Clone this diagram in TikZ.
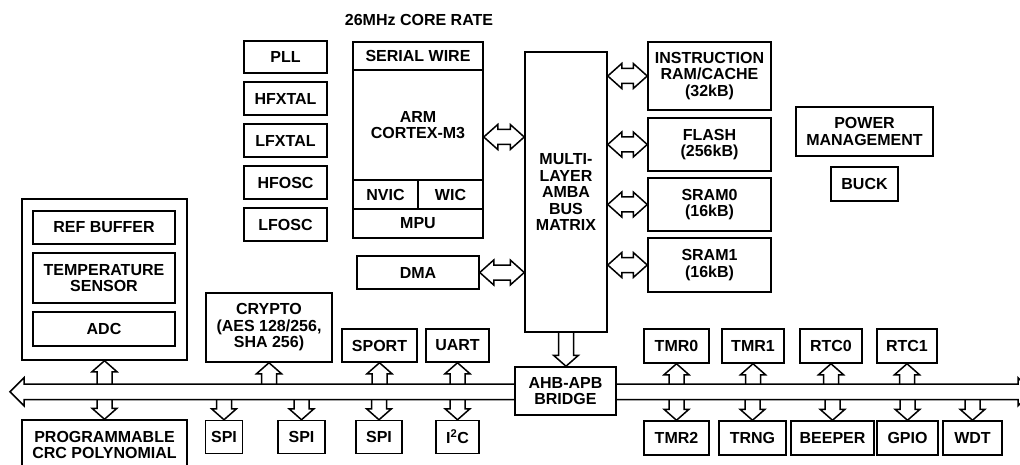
\documentclass[tikz,border=0pt]{standalone}
\usepackage{fontspec}
\setmainfont{Liberation Sans}
\usetikzlibrary{positioning,calc,backgrounds}

\tikzset{
  blk/.style={rectangle, draw, line width=1.5pt, font=\bfseries\fontsize{16}{16.5}\selectfont, align=center, inner sep=0pt},
  blkline/.style={line width=1.5pt, line join=miter}
}

% open block arrows: #1 start point, #2 end point
\newcommand{\biarrowh}[2]{%
  \draw[blkline] let \p1=#1, \p2=#2 in
    (\x1,\y1) -- ++(14pt,12.5pt) -- ++(0,-5pt) -- (\x2-14pt,\y1+7.5pt) -- ++(0,5pt)
    -- (\x2,\y1) -- ++(-14pt,-12.5pt) -- ++(0,5pt) -- (\x1+14pt,\y1-7.5pt) -- ++(0,-5pt) -- cycle;}
\newcommand{\uparrowblk}[2]{%
  \draw[blkline] let \p1=#1, \p2=#2 in
    (\x1-7.5pt,\y1) -- (\x1-7.5pt,\y2-11pt) -- ++(-5pt,0) -- (\x1,\y2)
    -- (\x1+12.5pt,\y2-11pt) -- ++(-5pt,0) -- (\x1+7.5pt,\y1);}
\newcommand{\downarrowblk}[2]{%
  \draw[blkline] let \p1=#1, \p2=#2 in
    (\x1-7.5pt,\y1) -- (\x1-7.5pt,\y2+11pt) -- ++(-5pt,0) -- (\x1,\y2)
    -- (\x1+12.5pt,\y2+11pt) -- ++(-5pt,0) -- (\x1+7.5pt,\y1);}

\begin{document}
\begin{tikzpicture}[x=1pt,y=-1pt]
    \useasboundingbox (0,0) rectangle (1020,465);

    % clock sources
    \node[blk, minimum width=83pt, minimum height=32pt] (pll) at (285.5,57) {PLL};
    \node[blk, minimum width=83pt, minimum height=33pt, below=7.5pt of pll] (hfxtal) {HFXTAL};
    \node[blk, minimum width=83pt, minimum height=33pt, below=7.5pt of hfxtal] (lfxtal) {LFXTAL};
    \node[blk, minimum width=83pt, minimum height=33pt, below=7.5pt of lfxtal] (hfosc) {HFOSC};
    \node[blk, minimum width=83pt, minimum height=33pt, below=7.5pt of hfosc] (lfosc) {LFOSC};

    % analog block
    \node[blk, minimum width=165pt, minimum height=161pt] (analog) at (104.5,279.5) {};
    \node[blk, minimum width=142pt, minimum height=33pt] (refbuffer) at (104,227.5) {REF BUFFER};
    \node[blk, minimum width=142pt, minimum height=50pt] (tempsensor) at (104,278) {TEMPERATURE\\SENSOR};
    \node[blk, minimum width=142pt, minimum height=34pt] (adc) at (104,329) {ADC};

    \node[blk, minimum width=126pt, minimum height=69pt] (crypto) at (269,327.5) {CRYPTO\\(AES 128/256,\\SHA 256)};
    \node[blk, minimum width=165pt, minimum height=50pt] (crc) at (104.5,445) {PROGRAMMABLE\\CRC POLYNOMIAL};

    % core
    \node[font=\bfseries\fontsize{16}{16.5}\selectfont] (corerate) at (419,20) {26MHz CORE RATE};
    \node[blk, minimum width=130pt, minimum height=196pt] (arm) at (418,140) {};
    \node[blk, minimum width=130pt, minimum height=28pt] (serialwire) at (418,56) {SERIAL WIRE};
    \node[blk, minimum width=130pt, minimum height=110pt] (cortex) at (418,125) {ARM\\CORTEX-M3};
    \node[blk, minimum width=65pt, minimum height=29pt] (nvic) at (385.5,194.5) {NVIC};
    \node[blk, minimum width=65pt, minimum height=29pt] (wic) at (450.5,194.5) {WIC};
    \node[blk, minimum width=130pt, minimum height=29pt] (mpu) at (418,223.5) {MPU};
    \node[blk, minimum width=122pt, minimum height=33pt] (dma) at (418,272.5) {DMA};

    \node[blk, minimum width=82pt, minimum height=280pt] (busmatrix) at (566,192) {MULTI-\\LAYER\\AMBA\\BUS\\MATRIX};

    % memories
    \node[blk, minimum width=123pt, minimum height=68pt] (instram) at (709.5,76) {INSTRUCTION\\RAM/CACHE\\(32kB)};
    \node[blk, minimum width=123pt, minimum height=53pt] (flash) at (709.5,144.5) {FLASH\\(256kB)};
    \node[blk, minimum width=123pt, minimum height=53pt] (sramzero) at (709.5,204.5) {SRAM0\\(16kB)};
    \node[blk, minimum width=123pt, minimum height=54pt] (sramone) at (709.5,265) {SRAM1\\(16kB)};

    \node[blk, minimum width=137pt, minimum height=49pt] (power) at (864.5,131.5) {POWER\\MANAGEMENT};
    \node[blk, minimum width=67pt, minimum height=34pt] (buck) at (864.5,184) {BUCK};

    % peripherals
    \node[blk, fill=white, minimum width=101pt, minimum height=48pt] (ahbbridge) at (565.5,391) {AHB-APB\\BRIDGE};
    \node[blk, minimum width=75pt, minimum height=33pt] (sport) at (379.5,345.5) {SPORT};
    \node[blk, minimum width=63pt, minimum height=33pt] (uart) at (457.5,345.5) {UART};
    \node[blk, minimum width=65pt, minimum height=34pt] (tmrzero) at (676.5,346) {TMR0};
    \node[blk, minimum width=62pt, minimum height=34pt] (tmrone) at (753,346) {TMR1};
    \node[blk, minimum width=62pt, minimum height=34pt] (rtczero) at (831,346) {RTC0};
    \node[blk, minimum width=60pt, minimum height=34pt] (rtcone) at (907,346) {RTC1};

    \node[blk, minimum width=37pt, minimum height=33pt] (spia) at (224,437) {SPI};
    \node[blk, minimum width=47pt, minimum height=33pt] (spib) at (301.5,437) {SPI};
    \node[blk, minimum width=46pt, minimum height=33pt] (spic) at (379,437) {SPI};
    \node[blk, minimum width=43pt, minimum height=33pt] (itwoc) at (457.5,437) {I\textsuperscript{2}C};
    \node[blk, minimum width=65pt, minimum height=34pt] (tmrtwo) at (676.5,438) {TMR2};
    \node[blk, minimum width=67pt, minimum height=34pt] (trng) at (752.5,438) {TRNG};
    \node[blk, minimum width=83pt, minimum height=34pt] (beeper) at (832.5,438) {BEEPER};
    \node[blk, minimum width=61pt, minimum height=34pt] (gpio) at (907.5,438) {GPIO};
    \node[blk, minimum width=59pt, minimum height=34pt] (wdt) at (972.5,438) {WDT};

    % peripheral bus
    \coordinate (busleft) at (10,391.75);
    \coordinate (busright) at (1032,391.75);
    \coordinate (bustop) at (0,384);
    \coordinate (busbottom) at (0,399.5);
    \begin{scope}[on background layer]
        \draw[blkline] let \p1=(busleft), \p2=(busright) in
            (\x1,\y1) -- ++(14pt,14pt) -- ++(0,-6.25pt) -- (\x2-14pt,\y1+7.75pt) -- ++(0,6.25pt)
            -- (\x2,\y1) -- ++(-14pt,-14pt) -- ++(0,6.25pt) -- (\x1+14pt,\y1-7.75pt) -- ++(0,-6.25pt) -- cycle;
    \end{scope}

    % matrix connections
    \biarrowh{([yshift=3pt]arm.east)}{(busmatrix.west)}
    \biarrowh{(dma.east)}{(busmatrix.west)}
    \biarrowh{(busmatrix.east |- instram.west)}{(instram.west)}
    \biarrowh{(busmatrix.east |- flash.west)}{(flash.west)}
    \biarrowh{(busmatrix.east |- sramzero.west)}{(sramzero.west)}
    \biarrowh{(busmatrix.east |- sramone.west)}{(sramone.west)}
    \downarrowblk{(busmatrix.south)}{(ahbbridge.north)}

    % bus taps
    \uparrowblk{(analog.south |- bustop)}{(analog.south)}
    \uparrowblk{(crypto.south |- bustop)}{(crypto.south)}
    \uparrowblk{(sport.south |- bustop)}{(sport.south)}
    \uparrowblk{(uart.south |- bustop)}{(uart.south)}
    \uparrowblk{(tmrzero.south |- bustop)}{(tmrzero.south)}
    \uparrowblk{(tmrone.south |- bustop)}{(tmrone.south)}
    \uparrowblk{(rtczero.south |- bustop)}{(rtczero.south)}
    \uparrowblk{(rtcone.south |- bustop)}{(rtcone.south)}
    \downarrowblk{(crc.north |- busbottom)}{(crc.north)}
    \downarrowblk{(spia.north |- busbottom)}{(spia.north)}
    \downarrowblk{(spib.north |- busbottom)}{(spib.north)}
    \downarrowblk{(spic.north |- busbottom)}{(spic.north)}
    \downarrowblk{(itwoc.north |- busbottom)}{(itwoc.north)}
    \downarrowblk{(tmrtwo.north |- busbottom)}{(tmrtwo.north)}
    \downarrowblk{(trng.north |- busbottom)}{(trng.north)}
    \downarrowblk{(beeper.north |- busbottom)}{(beeper.north)}
    \downarrowblk{(gpio.north |- busbottom)}{(gpio.north)}
    \downarrowblk{(wdt.north |- busbottom)}{(wdt.north)}
\end{tikzpicture}
\end{document}
